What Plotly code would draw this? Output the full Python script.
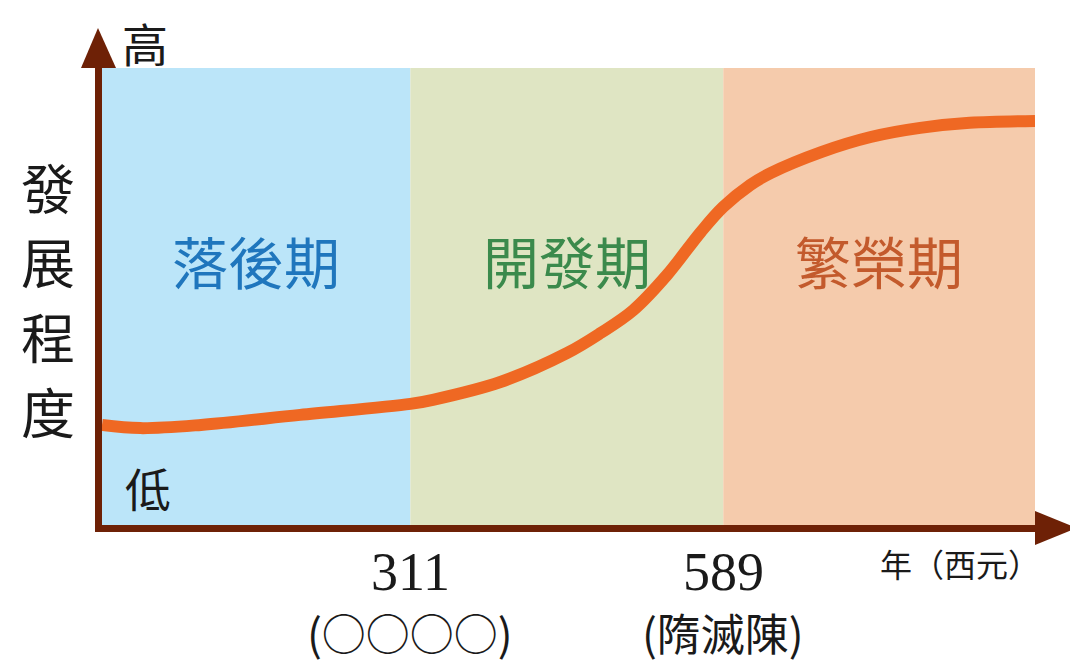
import plotly.graph_objects as go

# ---- data ----
period_names = ["落後期", "開發期", "繁榮期"]
period_starts = [37, 311, 589]
period_ends = [311, 589, 866]
period_fill = ["#bbe5f9", "#dfe5c3", "#f5cbac"]
period_text_color = ["#1f76bd", "#3b8a4c", "#c35a2c"]
period_label_level = 58

curve_years = [37, 71, 125, 213, 311, 331, 391, 450, 480, 509, 539, 569, 589,
               613, 631, 676, 720, 764, 808, 866]
curve_level = [21.9, 21.2, 21.9, 24.1, 26.5, 27.4, 31.3, 37.6, 42.0, 47.0, 54.7,
               64.1, 69.6, 74.4, 77.0, 81.6, 84.9, 86.9, 88.0, 88.4]

tick_years = [311, 589]
tick_labels = ["311", "589"]
tick_notes = ["(○○○○)", "(隋滅陳)"]
y_title_chars = ["發", "展", "程", "度"]

CJK = "Noto Sans CJK TC"
SERIF = "Liberation Serif"
AXIS = "#6e2106"
TXT = "#1a1a1a"

fig = go.Figure()

shapes = []
annotations = []

# period bands
for name, s, e, fc, tc in zip(period_names, period_starts, period_ends,
                              period_fill, period_text_color):
    shapes.append(dict(type="rect", xref="x", yref="paper", x0=s, x1=e, y0=0, y1=1,
                       fillcolor=fc, line=dict(width=0), layer="below"))
    annotations.append(dict(x=(s + e) / 2, y=period_label_level, xref="x", yref="y",
                            text=name, showarrow=False, xanchor="center",
                            font=dict(family=CJK, size=56, color=tc)))

# curve
fig.add_trace(go.Scatter(x=curve_years, y=curve_level, mode="lines",
                         line=dict(color="#ef6823", width=12, shape="spline", smoothing=1.0),
                         hoverinfo="skip", showlegend=False, cliponaxis=False))

# axes lines and arrowheads (decoration)
shapes.append(dict(type="line", xref="paper", yref="paper", x0=-0.00375, x1=-0.00375,
                   y0=-0.0153, y1=1.0, line=dict(color=AXIS, width=7), layer="above"))
shapes.append(dict(type="line", xref="paper", yref="paper", x0=-0.0075, x1=1.0,
                   y0=-0.0077, y1=-0.0077, line=dict(color=AXIS, width=7), layer="above"))
shapes.append(dict(type="path", xref="paper", yref="paper",
                   path="M -0.0225 1.0 L -0.0043 1.0875 L 0.015 1.0 Z",
                   fillcolor=AXIS, line=dict(width=0), layer="above"))
shapes.append(dict(type="path", xref="paper", yref="paper",
                   path="M 1.0 0.0306 L 1.045 -0.0066 L 1.0 -0.0438 Z",
                   fillcolor=AXIS, line=dict(width=0), layer="above"))

# tick labels
for yr, lab, note in zip(tick_years, tick_labels, tick_notes):
    annotations.append(dict(x=yr, y=-0.102, xref="x", yref="paper", text=lab,
                            showarrow=False, xanchor="center", yanchor="middle",
                            font=dict(family=SERIF, size=54, color=TXT)))
    annotations.append(dict(x=yr, y=-0.235, xref="x", yref="paper", text=note,
                            showarrow=False, xanchor="center", yanchor="middle",
                            font=dict(family=CJK, size=44, color=TXT)))

annotations.append(dict(x=1.0, xshift=-75, y=-0.083, xref="paper", yref="paper",
                        text="年（西元）", showarrow=False, xanchor="center", yanchor="middle",
                        font=dict(family=CJK, size=32, color=TXT)))

# y-axis labels
annotations.append(dict(x=0, xshift=43, y=1, yshift=26, xref="paper", yref="paper",
                        text="高", showarrow=False, xanchor="center", yanchor="middle",
                        font=dict(family=CJK, size=46, color=TXT)))
annotations.append(dict(x=0, xshift=46, y=0, yshift=38, xref="paper", yref="paper",
                        text="低", showarrow=False, xanchor="center", yanchor="middle",
                        font=dict(family=CJK, size=46, color=TXT)))
ypix = [186, 261, 335, 410]
for ch, py in zip(y_title_chars, ypix):
    annotations.append(dict(x=0, xshift=-54, y=(525 - py) / 457, xref="paper", yref="paper",
                            text=ch, showarrow=False, xanchor="center", yanchor="middle",
                            font=dict(family=CJK, size=54, color=TXT)))

fig.update_layout(
    width=1070, height=657,
    margin=dict(l=94, r=43, t=60, b=140),
    paper_bgcolor="white", plot_bgcolor="white",
    xaxis=dict(range=[37, 866], showgrid=False, zeroline=False, showticklabels=False,
               showline=False, fixedrange=True),
    yaxis=dict(range=[0, 100], showgrid=False, zeroline=False, showticklabels=False,
               showline=False, fixedrange=True),
    shapes=shapes, annotations=annotations,
)

fig.write_html("out.html", config={"displayModeBar": False})
